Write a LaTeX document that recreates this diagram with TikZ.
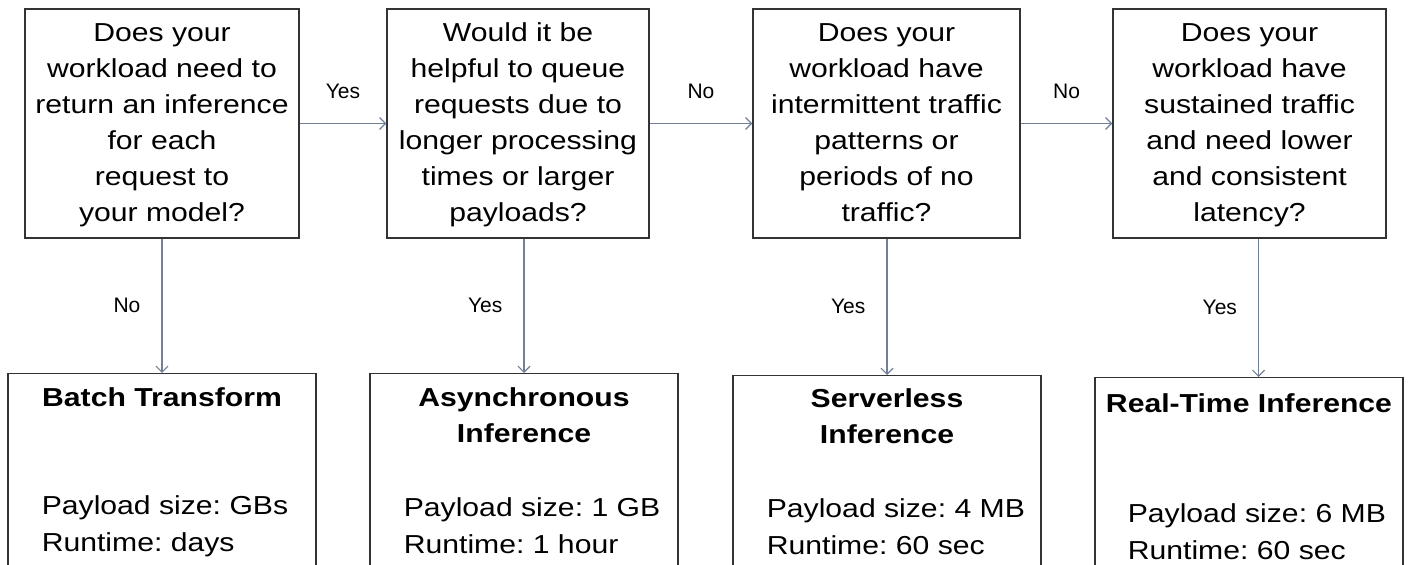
\documentclass[tikz,border=0pt]{standalone}
\usepackage{fontspec}
\setmainfont[FakeStretch=1.16]{Liberation Sans}
\newfontfamily\labelfont{Liberation Sans}
\usetikzlibrary{arrows.meta,positioning}
\definecolor{linkgray}{RGB}{112,128,152}
\frenchspacing
\tikzset{
  question/.style={draw=black!80, line width=0.6pt, minimum height=114.5pt, align=center, inner sep=0pt,
    font=\fontsize{13}{18}\selectfont, text height=98pt, text depth=0pt},
  option/.style={draw=black!80, line width=0.6pt, minimum width=154pt, minimum height=120pt, anchor=north},
  optname/.style={font=\fontsize{13}{18}\selectfont\bfseries, align=center, inner sep=0pt},
  optinfo/.style={font=\fontsize{13}{18.5}\selectfont, align=left, inner sep=0pt},
  link/.style={draw=linkgray, line width=0.6pt, -{Straight Barb[length=3pt,width=6pt]}},
  answer/.style={font=\labelfont\fontsize{10.5}{12}\selectfont, inner sep=0pt}
}
\begin{document}
\begin{tikzpicture}[x=0.5pt, y=-0.5pt]
\useasboundingbox (0,0) rectangle (1408,565);
\clip (0,0) rectangle (1408,565);
\node[question, minimum width=137pt] (q1) at (162,123.5) {Does your\\workload need to\\return an inference\\for each\\request to\\your model?};
\node[question, minimum width=131pt] (q2) at (518,123.5) {Would it be\\helpful to queue\\requests due to\\longer processing\\times or larger\\payloads?};
\node[question, minimum width=133.5pt] (q3) at (886.5,123.5) {Does your\\workload have\\intermittent traffic\\patterns or\\periods of no\\traffic?};
\node[question, minimum width=136.5pt] (q4) at (1249.5,123.5) {Does your\\workload have\\sustained traffic\\and need lower\\and consistent\\latency?};
\node[option] (r1) at (162,373) {};
\node[option] (r2) at (524,373) {};
\node[option] (r3) at (887,375) {};
\node[option] (r4) at (1249,377) {};
\node[optname, below=7pt of r1.north] (n1) {Batch Transform};
\node[optname, below=7pt of r2.north] (n2) {Asynchronous\\Inference};
\node[optname, below=6.5pt of r3.north] (n3) {Serverless\\Inference};
\node[optname, below=8pt of r4.north] (n4) {Real-Time Inference};
\node[optinfo, below right=61pt and 17pt of r1.north west] (i1) {Payload size: GBs\\Runtime: days};
\node[optinfo, below right=62pt and 17pt of r2.north west] (i2) {Payload size: 1 GB\\Runtime: 1 hour};
\node[optinfo, below right=61.5pt and 17pt of r3.north west] (i3) {Payload size: 4 MB\\Runtime: 60 sec};
\node[optinfo, below right=63pt and 16.5pt of r4.north west] (i4) {Payload size: 6 MB\\Runtime: 60 sec};
\draw[link] (q1) -- node[answer, above=12pt] (a1) {Yes} (q2);
\draw[link] (q2) -- node[answer, above=12pt] (a2) {No} (q3);
\draw[link] (q3) -- node[answer, above=12pt] (a3) {No} (q4);
\draw[link] (q1.south -| r1.north) -- node[answer, left=10.5pt] (b1) {No} (r1.north);
\draw[link] (q2.south -| r2.north) -- node[answer, left=10.5pt] (b2) {Yes} (r2.north);
\draw[link] (q3.south -| r3.north) -- node[answer, left=10.5pt] (b3) {Yes} (r3.north);
\draw[link] ([xshift=4.5pt]q4.south) -- node[answer, left=10.5pt] (b4) {Yes} ([xshift=4.5pt]q4.south |- r4.north);
\end{tikzpicture}
\end{document}
